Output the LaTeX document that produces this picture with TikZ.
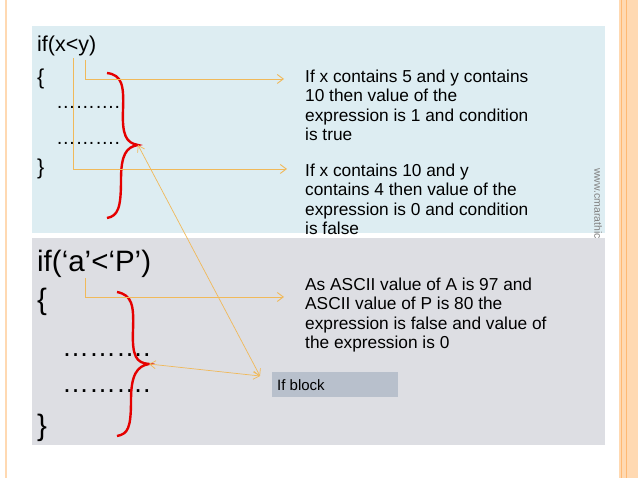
\documentclass[tikz,border=0pt]{standalone}
\usepackage{fontspec}
\setmainfont{Liberation Sans}
\usetikzlibrary{arrows.meta}
\begin{document}
\begin{tikzpicture}[x=1pt,y=-1pt,
  conn/.style={draw={rgb,255:red,240;green,185;blue,90}, line width=0.9pt, -{Straight Barb[length=6pt,width=9pt]}},
  brace/.style={draw=red!90!black, line width=2.4pt},
  desc/.style={anchor=north west, align=left, font=\fontsize{17.3}{19.2}\selectfont, inner sep=0pt},
  code/.style={anchor=west, inner sep=0pt}]
\useasboundingbox (0,0) rectangle (638,478);
\fill[white] (0,0) rectangle (638,478);
\draw[orange!30, line width=1.5pt] (6,0) -- (6,478);
\fill[orange!30] (619,0) rectangle (638,478);
\draw[orange!55, line width=0.8pt] (621,0) -- (621,478) (626,0) -- (626,478);
\fill[fill={rgb,255:red,221;green,237;blue,242}] (32,26) rectangle (605,233);
\fill[fill={rgb,255:red,221;green,222;blue,227}] (32,238) rectangle (605,445);
% code top
\node[code, font=\fontsize{21.5}{24}\selectfont] (c1) at (37,46) {if(x<y)};
\node[code, font=\fontsize{21.5}{24}\selectfont] (o1) at (37,79) {\{};
\node[code, font=\fontsize{19.5}{22}\selectfont] (d1) at (56,107) {……….};
\node[code, font=\fontsize{19.5}{22}\selectfont] (d2) at (56,143) {……….};
\node[code, font=\fontsize{21.5}{24}\selectfont] (e1) at (37,169) {\}};
% code bottom
\node[code, font=\fontsize{29.5}{32}\selectfont] (c2) at (37,264) {if(‘a’<‘P’)};
\node[code, font=\fontsize{29.5}{32}\selectfont] (o2) at (37,302) {\{};
\node[code, font=\fontsize{27}{30}\selectfont] (d3) at (62,355) {……….};
\node[code, font=\fontsize{27}{30}\selectfont] (d4) at (62,391) {……….};
\node[code, font=\fontsize{29.5}{32}\selectfont] (e2) at (37,428) {\}};
% braces
\draw[brace] (107,73) .. controls (122,75) and (124,85) .. (123,110) .. controls (122,135) and (126,143) .. (138,145)
  coordinate (t1) .. controls (126,147) and (121,155) .. (121,180) .. controls (121,208) and (118,216) .. (107,218);
\draw[brace] (117,292) .. controls (132,295) and (134,305) .. (133,330) .. controls (132,356) and (136,363) .. (149,364)
  coordinate (t2) .. controls (137,366) and (131,375) .. (131,400) .. controls (131,428) and (128,434) .. (117,436);
% descriptions
\node[desc] (a) at (305,70) {If x contains 5 and y contains\\10 then value of the\\expression is 1 and condition\\is true};
\node[desc] (b) at (305,164) {If x contains 10 and y\\contains 4 then value of the\\expression is 0 and condition\\is false};
\node[desc] (c) at (305,278) {As ASCII value of A is 97 and\\ASCII value of P is 80 the\\expression is false and value of\\the expression is 0};
\fill[fill={rgb,255:red,184;green,192;blue,204}] (272,372) rectangle (398,397);
\node[anchor=west, font=\fontsize{15}{17}\selectfont, inner sep=0pt] (ib) at (277,385) {If block};
% connectors
\coordinate (p1) at (85,60); \coordinate (q1) at (284,79);
\coordinate (p2) at (73,58); \coordinate (q2) at (287,169);
\coordinate (p3) at (85,278); \coordinate (q3) at (284,297);
\draw[conn] (p1) |- (q1);
\draw[conn] (p2) |- (q2);
\draw[conn] (p3) |- (q3);
\coordinate (m) at (260,376);
\draw[conn, {Straight Barb[length=6pt,width=8pt]}-{Straight Barb[length=6pt,width=8pt]}, line width=0.7pt] (t1) -- (m);
\draw[conn, {Straight Barb[length=6pt,width=8pt]}-{Straight Barb[length=6pt,width=8pt]}, line width=0.7pt] (t2) -- (m);
\node[rotate=-90, anchor=west, font=\fontsize{10.5}{12}\selectfont, text=gray, inner sep=0pt] (w) at (598,168) {www.cmarathic};
\end{tikzpicture}
\end{document}
